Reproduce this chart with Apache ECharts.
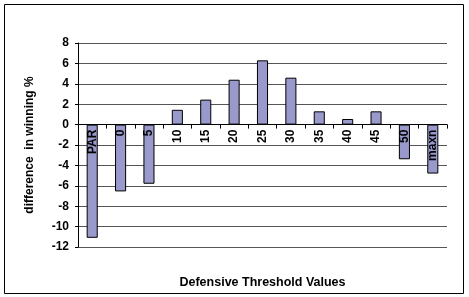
<!DOCTYPE html>
<html>
<head>
<meta charset="utf-8">
<script src="https://cdn.jsdelivr.net/npm/echarts@6/dist/echarts.min.js"></script>
<style>
  html, body { margin: 0; padding: 0; background: #fff; }
  #chart { width: 469px; height: 297px; }
</style>
</head>
<body>
<div id="chart"></div>
<script>
const categories = ['PAR', '0', '5', '10', '15', '20', '25', '30', '35', '40', '45', '50', 'maxn'];
const winDiff = [-11.1, -6.55, -5.8, 1.45, 2.45, 4.4, 6.3, 4.6, 1.3, 0.55, 1.3, -3.4, -4.8];
const yMin = -12, yMax = 8, yStep = 2;

const font = 'Liberation Sans, Arial, sans-serif';
const gridTop = 43, gridBottom = 50, chartH = 297;
const plotH = chartH - gridTop - gridBottom;
// move the category axis up to the zero line (labels follow it)
const zeroOffset = -plotH * (0 - yMin) / (yMax - yMin);

const chart = echarts.init(document.getElementById('chart'));

chart.setOption({
    animation: false,
    graphic: [{
        type: 'rect',
        shape: {x: 4.5, y: 4.5, width: 459, height: 289},
        style: {fill: 'none', stroke: '#000', lineWidth: 1},
        z: -1
    }],
    grid: {left: 78, right: 22, top: gridTop, bottom: gridBottom, containLabel: false, outerBoundsMode: 'none'},
    xAxis: {
        type: 'category',
        data: categories,
        z: 5,
        offset: zeroOffset,
        name: 'Defensive Threshold Values',
        nameLocation: 'middle',
        nameGap: 151,
        nameTextStyle: {fontFamily: font, fontWeight: 'bold', fontSize: 12.5, color: '#000'},
        axisLine: {onZero: false, lineStyle: {color: '#000', width: 1}},
        axisTick: {show: true, length: 4, interval: 0, lineStyle: {color: '#000'}},
        axisLabel: {
            rotate: 90, interval: 0, margin: 5,
            fontFamily: font, fontWeight: 'bold', fontSize: 12, color: '#000'
        }
    },
    yAxis: {
        type: 'value',
        min: yMin, max: yMax, interval: yStep,
        name: 'difference  in winning %',
        nameLocation: 'middle',
        nameGap: 42,
        nameTextStyle: {fontFamily: font, fontWeight: 'bold', fontSize: 12, color: '#000'},
        axisLine: {show: true, lineStyle: {color: '#000', width: 1}},
        axisTick: {show: true, length: 3, lineStyle: {color: '#000'}},
        axisLabel: {margin: 9, showMinLabel: true, showMaxLabel: true, fontFamily: font, fontWeight: 'bold', fontSize: 12, color: '#000'},
        splitLine: {show: true, lineStyle: {color: '#555', width: 1}}
    },
    series: [{
        type: 'bar',
        data: winDiff,
        barWidth: '39%',
        itemStyle: {color: '#9999CC', borderColor: '#000', borderWidth: 1}
    }]
});
</script>
</body>
</html>
